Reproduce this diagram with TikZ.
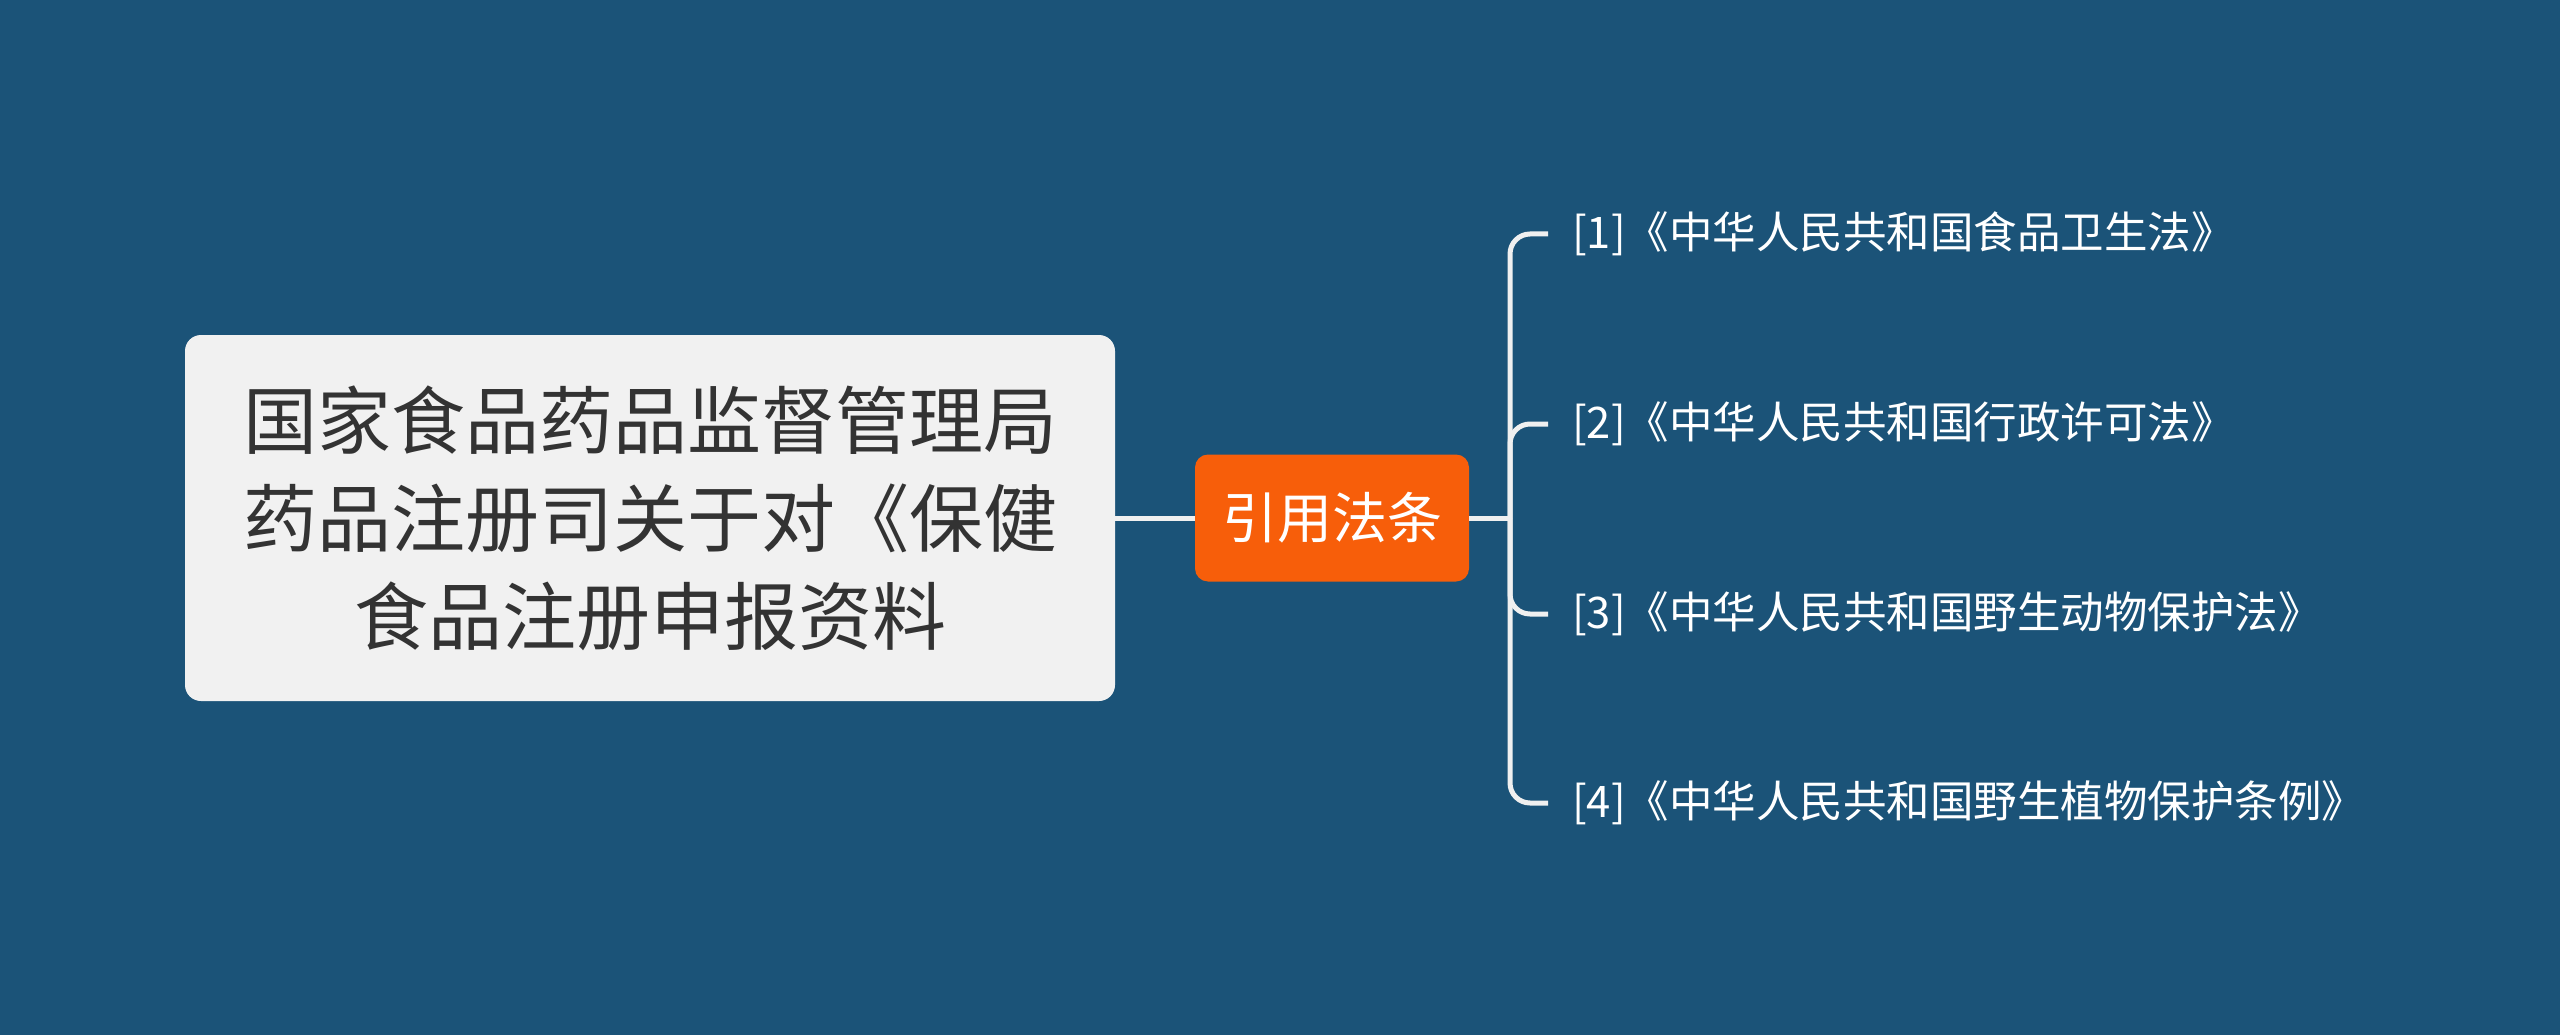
\documentclass[tikz,border=0pt]{standalone}
\usepackage{fontspec}
\setmainfont{Noto Sans CJK SC}
\definecolor{bgblue}{RGB}{27,83,120}
\definecolor{rootfill}{RGB}{241,241,241}
\definecolor{roottext}{RGB}{51,51,51}
\definecolor{citeorange}{RGB}{247,94,10}
\definecolor{linecol}{RGB}{240,240,240}
\tikzset{
  rootbox/.style={draw=none, fill=rootfill, rounded corners=16pt, minimum width=930pt, minimum height=366pt,
    align=center, text=roottext, font=\fontsize{74}{98}\selectfont, inner sep=0pt},
  citebox/.style={draw=none, fill=citeorange, rounded corners=13pt, minimum width=274pt, minimum height=127pt,
    text=white, font=\fontsize{55}{64}\selectfont, inner sep=0pt},
  leaf/.style={anchor=west, text=white, font=\fontsize{43.5}{50}\selectfont, inner xsep=24pt, inner ysep=4pt},
  conn/.style={draw=linecol, line width=5pt, rounded corners=20pt}
}
\begin{document}
\begin{tikzpicture}[x=1pt,y=-1pt]
\fill[bgblue] (0,0) rectangle (2560,1035);
\useasboundingbox (0,0) rectangle (2560,1035);
\node[rootbox] (root) at (650,518) {国家食品药品监督管理局\\药品注册司关于对《保健\\食品注册申报资料};
\node[citebox] (cite) at (1332,518) {引用法条};
\coordinate (hub) at (1510,518);
\node[leaf] (l1) at (1548,234) {[1]《中华人民共和国食品卫生法》};
\node[leaf] (l2) at (1548,424) {[2]《中华人民共和国行政许可法》};
\node[leaf] (l3) at (1548,614) {[3]《中华人民共和国野生动物保护法》};
\node[leaf] (l4) at (1548,803) {[4]《中华人民共和国野生植物保护条例》};
\draw[conn] (root.east) -- (cite.west);
\draw[conn] (cite.east) -- (hub);
\draw[conn] (hub) |- (l1.west);
\draw[conn] (hub) |- (l2.west);
\draw[conn] (hub) |- (l3.west);
\draw[conn] (hub) |- (l4.west);
\end{tikzpicture}
\end{document}
